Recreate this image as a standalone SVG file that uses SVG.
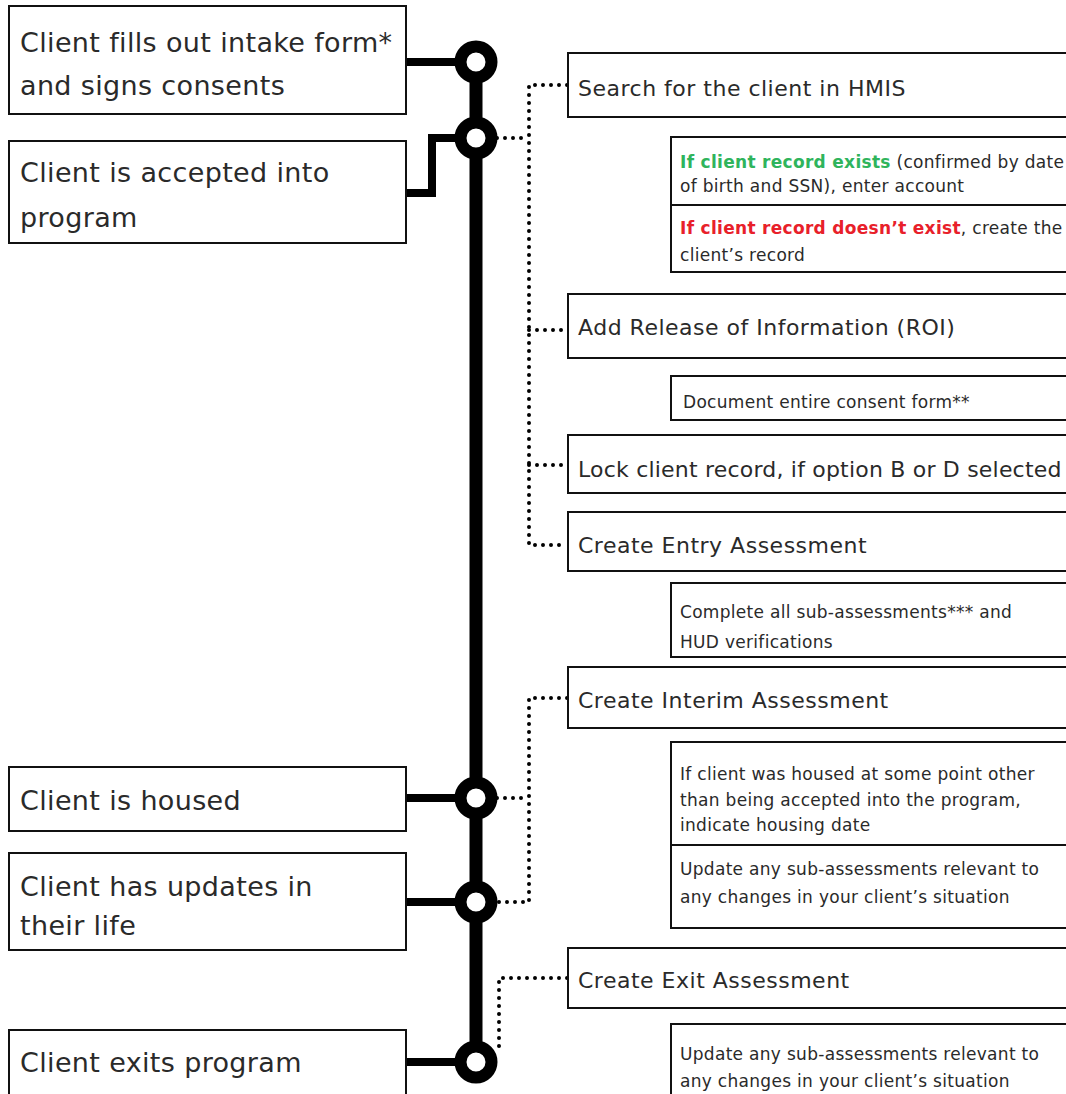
<svg xmlns="http://www.w3.org/2000/svg" width="1066" height="1094" viewBox="0 0 1066 1094">
<style>
.box{fill:#fff;stroke:#111;stroke-width:2}
.lt{font-family:"DejaVu Sans",sans-serif;font-size:27px;fill:#2a2a2a;letter-spacing:0.35px}
.rt{font-family:"DejaVu Sans",sans-serif;font-size:22px;fill:#2a2a2a;letter-spacing:0.5px}
.st{font-family:"DejaVu Sans",sans-serif;font-size:17px;fill:#2a2a2a;letter-spacing:0.3px}
.grn{fill:#2fb45c;font-weight:bold}
.red{fill:#e8202a;font-weight:bold}
.thick{fill:none;stroke:#000;stroke-width:8}
.spine{fill:none;stroke:#000;stroke-width:13}
.ring{fill:#fff;stroke:#000;stroke-width:12}
.dot{fill:none;stroke:#000;stroke-width:4;stroke-linecap:round;stroke-dasharray:0 8}
</style>
<rect width="1066" height="1094" fill="#fff"/>
<g id="connectors">
<line class="spine" x1="476" y1="62" x2="476" y2="1062"/>
<path class="thick" d="M406,62 H476"/>
<path class="thick" d="M406,193 H432 V138 H476"/>
<path class="thick" d="M406,798 H476"/>
<path class="thick" d="M406,902 H476"/>
<path class="thick" d="M406,1062 H476"/>
<path class="dot" d="M497,138 H529"/>
<path class="dot" d="M567,85 H529 V545 H567"/>
<path class="dot" d="M529,330 H567"/>
<path class="dot" d="M529,465 H567"/>
<path class="dot" d="M497,798 H529"/>
<path class="dot" d="M567,698 H529 V902 H497"/>
<path class="dot" d="M567,978 H499 V1050"/>
</g>
<g id="m1"><circle class="ring" cx="476" cy="62" r="15.5"/></g>
<g id="m2"><circle class="ring" cx="476" cy="138" r="15.5"/></g>
<g id="m3"><circle class="ring" cx="476" cy="798" r="15.5"/></g>
<g id="m4"><circle class="ring" cx="476" cy="902" r="15.5"/></g>
<g id="m5"><circle class="ring" cx="476" cy="1062" r="15.5"/></g>
<g id="intake"><rect class="box" x="9" y="6" width="397" height="108"/><text class="lt" x="20" y="52">Client fills out intake form*</text><text class="lt" x="20" y="95">and signs consents</text></g>
<g id="accepted"><rect class="box" x="9" y="141" width="397" height="102"/><text class="lt" x="20" y="182">Client is accepted into</text><text class="lt" x="20" y="227">program</text></g>
<g id="housed"><rect class="box" x="9" y="767" width="397" height="64"/><text class="lt" x="20" y="810">Client is housed</text></g>
<g id="updates"><rect class="box" x="9" y="853" width="397" height="97"/><text class="lt" x="20" y="896">Client has updates in</text><text class="lt" x="20" y="935">their life</text></g>
<g id="exits"><rect class="box" x="9" y="1030" width="397" height="70"/><text class="lt" x="20" y="1072">Client exits program</text></g>
<g id="search"><rect class="box" x="568" y="53" width="510" height="64"/><text class="rt" x="578" y="96">Search for the client in HMIS</text></g>
<g id="exists"><rect class="box" x="671" y="137" width="410" height="68"/><text class="st" x="680" y="168"><tspan class="grn">If client record exists</tspan> (confirmed by date</text><text class="st" x="680" y="192">of birth and SSN), enter account</text></g>
<g id="notexists"><rect class="box" x="671" y="205" width="410" height="67"/><text class="st" x="680" y="234"><tspan class="red">If client record doesn’t exist</tspan>, create the</text><text class="st" x="680" y="261">client’s record</text></g>
<g id="roi"><rect class="box" x="568" y="294" width="510" height="64"/><text class="rt" x="578" y="335">Add Release of Information (ROI)</text></g>
<g id="consent"><rect class="box" x="671" y="376" width="410" height="44"/><text class="st" x="683" y="408">Document entire consent form**</text></g>
<g id="lock"><rect class="box" x="568" y="435" width="510" height="58"/><text class="rt" x="578" y="477" style="letter-spacing:0.2px">Lock client record, if option B or D selected</text></g>
<g id="entry"><rect class="box" x="568" y="512" width="510" height="59"/><text class="rt" x="578" y="553">Create Entry Assessment</text></g>
<g id="subassess"><rect class="box" x="671" y="583" width="410" height="74"/><text class="st" x="680" y="618">Complete all sub-assessments*** and</text><text class="st" x="680" y="648">HUD verifications</text></g>
<g id="interim"><rect class="box" x="568" y="667" width="510" height="61"/><text class="rt" x="578" y="708">Create Interim Assessment</text></g>
<g id="housingdate"><rect class="box" x="671" y="742" width="410" height="103"/><text class="st" x="680" y="780">If client was housed at some point other</text><text class="st" x="680" y="806">than being accepted into the program,</text><text class="st" x="680" y="831">indicate housing date</text></g>
<g id="update1"><rect class="box" x="671" y="845" width="410" height="83"/><text class="st" x="680" y="875">Update any sub-assessments relevant to</text><text class="st" x="680" y="903">any changes in your client’s situation</text></g>
<g id="exit"><rect class="box" x="568" y="948" width="510" height="60"/><text class="rt" x="578" y="988">Create Exit Assessment</text></g>
<g id="update2"><rect class="box" x="671" y="1024" width="410" height="80"/><text class="st" x="680" y="1060">Update any sub-assessments relevant to</text><text class="st" x="680" y="1087">any changes in your client’s situation</text></g>
</svg>
